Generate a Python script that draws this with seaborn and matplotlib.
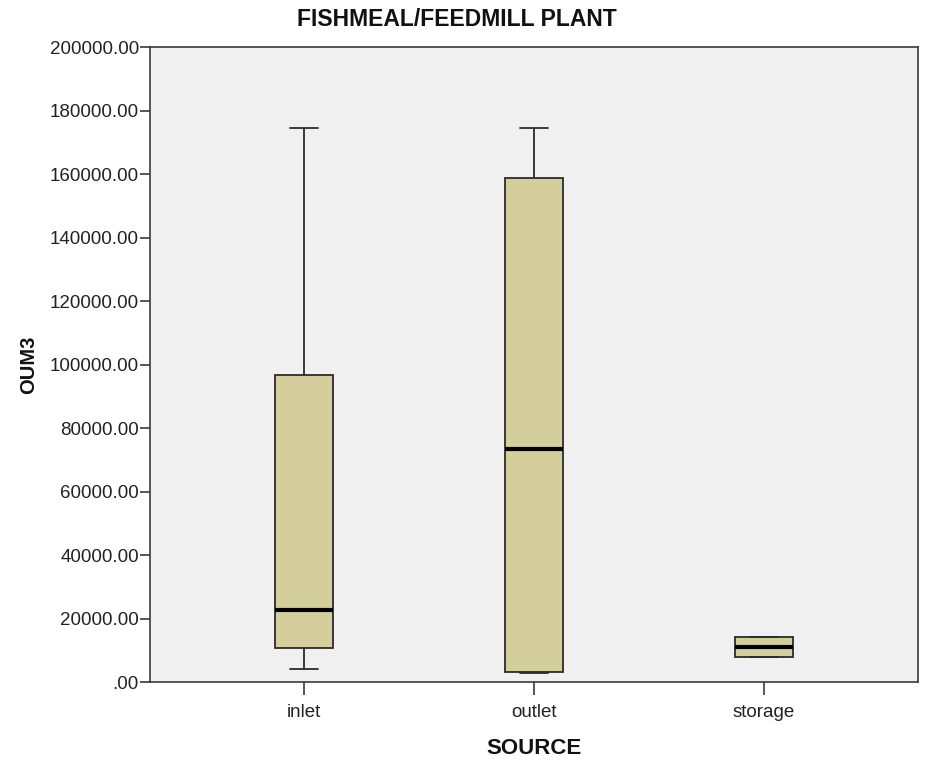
import matplotlib
matplotlib.use("Agg")
import matplotlib.pyplot as plt
import pandas as pd
import seaborn as sns

# five-number summaries: min, Q1, median, Q3, max
SOURCES = ["inlet", "outlet", "storage"]
INLET = [4100, 10700, 22700, 96700, 174500]
OUTLET = [2800, 3100, 73400, 158700, 174500]
STORAGE = [7900, 7900, 11000, 14200, 14200]
Y_TICKS = list(range(0, 200001, 20000))

BOX_COLOR = "#D3CE9C"
LINE_COLOR = "#2b2b2b"
FONT = ["Liberation Sans", "DejaVu Sans"]


def main() -> None:
    df = pd.DataFrame({
        "SOURCE": ["inlet"] * len(INLET) + ["outlet"] * len(OUTLET) + ["storage"] * len(STORAGE),
        "OUM3": INLET + OUTLET + STORAGE,
    })

    sns.set_theme(style="white")
    plt.rcParams["font.family"] = FONT

    fig = plt.figure(figsize=(9.3, 7.61), dpi=100)
    ax = fig.add_axes([0.1613, 0.1038, 0.8257, 0.8344])
    ax.set_facecolor("#F0F0F0")

    sns.boxplot(
        data=df, x="SOURCE", y="OUM3", order=SOURCES, ax=ax,
        whis=(0, 100), width=0.25, color=BOX_COLOR, saturation=1,
        linecolor=LINE_COLOR, linewidth=1.3, fliersize=0,
        medianprops=dict(color="black", linewidth=3),
    )

    ax.set_xlim(-0.67, 2.67)
    ax.set_ylim(0, 200000)
    ax.set_yticks(Y_TICKS)
    ax.set_yticklabels([".00" if v == 0 else f"{v:.2f}" for v in Y_TICKS])

    for side in ["left", "right", "top", "bottom"]:
        ax.spines[side].set_visible(True)
        ax.spines[side].set_color("#3a3a3a")
        ax.spines[side].set_linewidth(1.2)

    ax.tick_params(axis="y", left=True, length=7, width=1.2, color="#3a3a3a",
                   labelsize=13.5, labelcolor="#222222", pad=1)
    ax.tick_params(axis="x", bottom=True, length=9, width=1.2, color="#3a3a3a",
                   labelsize=13.5, labelcolor="#222222", pad=7)

    fig.suptitle("FISHMEAL/FEEDMILL PLANT", x=0.491, y=0.974, va="center",
                 fontsize=16.5, fontweight="bold", color="#111111")
    ax.set_xlabel("SOURCE", fontsize=16, fontweight="bold", labelpad=12, color="#111111")
    ax.set_ylabel("OUM3", fontsize=14.5, fontweight="bold", labelpad=8, color="#111111")

    fig.savefig("out.png", dpi=100)
    plt.close(fig)


if __name__ == "__main__":
    main()
